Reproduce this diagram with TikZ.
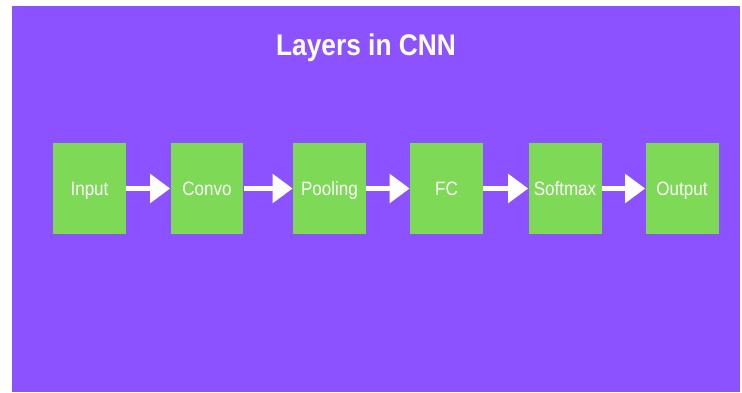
\documentclass[tikz,border=0pt]{standalone}
\usepackage{fontspec}
\setmainfont{Liberation Sans}[FakeStretch=0.88]
\usetikzlibrary{arrows.meta}

\definecolor{cnnpurple}{HTML}{8C52FF}
\definecolor{cnngreen}{HTML}{7ED957}

\begin{document}
\begin{tikzpicture}[x=0.02cm,y=-0.02cm,
    layer/.style={fill=cnngreen,text=white,inner sep=0pt,minimum width=1.46cm,minimum height=1.82cm,text height=7.9pt,text depth=0pt,font=\fontsize{11}{13}\selectfont},
    flow/.style={draw=white,line width=3.4pt,-{Triangle[length=11.4pt,width=16pt]}}]
    \useasboundingbox (0,0) rectangle (742,392);
    \fill[cnnpurple] (12,6) rectangle (740,392);

    \node[anchor=base,text=white,font=\fontsize{17}{20}\selectfont\bfseries] (title) at (366,55) {Layers in CNN};

    \node[layer] (input) at (89.5, 188.5) {Input};
    \node[layer] (convo) at (207, 188.5) {Convo};
    \node[layer] (pool) at (329.5, 188.5) {Pooling};
    \node[layer] (fc) at (446.5, 188.5) {FC};
    \node[layer] (soft) at (565, 188.5) {Softmax};
    \node[layer] (output) at (682, 188.5) {Output};

    \path (input) edge[flow] (convo);
    \path (convo) edge[flow] (pool);
    \path (pool) edge[flow] (fc);
    \path (fc) edge[flow] (soft);
    \path (soft) edge[flow] (output);
  \end{tikzpicture}
\end{document}
